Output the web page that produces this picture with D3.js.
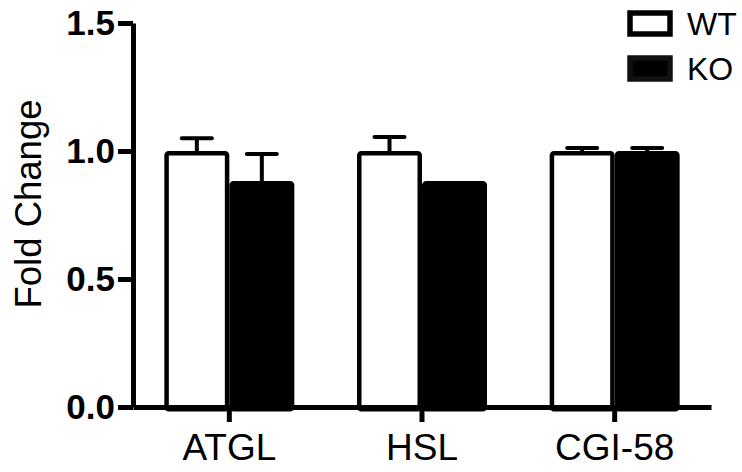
<!DOCTYPE html>
<html>
<head>
<meta charset="utf-8">
<script src="https://cdn.jsdelivr.net/npm/d3@7"></script>
<style>
  body { margin: 0; background: #fff; }
  svg { display: block; font-family: "Liberation Sans", Arial, sans-serif; }
</style>
</head>
<body>
<div id="container"></div>
<script>
const width = 742;
const height = 472;

// data
const genes = ["ATGL", "HSL", "CGI-58"];
const groups = ["WT", "KO"];
const wtMean = [1.0, 1.0, 1.0];
const wtErr = [0.05, 0.055, 0.012];
const koMean = [0.883, 0.883, 1.0];
const koErr = [0.105, 0, 0.012];
const yTicks = [0, 0.5, 1.0, 1.5];

const rows = [];
genes.forEach((g, i) => {
    rows.push({ gene: g, group: "WT", mean: wtMean[i], err: wtErr[i] });
    rows.push({ gene: g, group: "KO", mean: koMean[i], err: koErr[i] });
});

const svg = d3.select("div#container").append("svg")
    .attr("width", width)
    .attr("height", height);

// Scales
const x0 = d3.scaleBand().domain(genes).range([133, 711]).padding(0);
const x1 = d3.scaleBand().domain(groups).range([-65, 65]);
const yScale = d3.scaleLinear().domain([0, 1.5]).range([407, 23]);

const sw = 4.5;

// error bars (drawn first, bar covers the lower end)
const eb = svg.append("g").selectAll("g")
    .data(rows.filter(d => d.err > 0))
    .enter().append("g")
    .attr("transform", d => "translate(" + (x0(d.gene) + x0.bandwidth() / 2 + x1(d.group) + x1.bandwidth() / 2) + ",0)");

eb.append("line")
    .attr("y1", d => yScale(d.mean))
    .attr("y2", d => yScale(d.mean + d.err))
    .attr("stroke", "#000").attr("stroke-width", 4);

eb.append("line")
    .attr("x1", -15).attr("x2", 15)
    .attr("y1", d => yScale(d.mean + d.err))
    .attr("y2", d => yScale(d.mean + d.err))
    .attr("stroke", "#000").attr("stroke-width", 4)
    .attr("stroke-linecap", "round");

// bars
svg.append("g").selectAll("rect")
    .data(rows)
    .enter().append("rect")
    .attr("x", d => x0(d.gene) + x0.bandwidth() / 2 + x1(d.group) + sw / 2)
    .attr("width", x1.bandwidth() - sw)
    .attr("y", d => yScale(d.mean) + sw / 2)
    .attr("height", d => yScale(0) - yScale(d.mean))
    .attr("rx", 2)
    .attr("fill", d => d.group === "WT" ? "#fff" : "#000")
    .attr("stroke", "#000")
    .attr("stroke-width", sw);

// axes
const yaxis = d3.axisLeft(yScale)
    .tickValues(yTicks)
    .tickFormat(d3.format(".1f"))
    .tickSize(15)
    .tickSizeOuter(0)
    .tickPadding(3);

const xaxis = d3.axisBottom(x0)
    .tickSize(15)
    .tickSizeOuter(0)
    .tickPadding(12);

const gy = svg.append("g")
    .attr("transform", "translate(133,0)")
    .call(yaxis);
gy.select(".domain").attr("stroke-width", 5);
gy.selectAll(".tick line").attr("stroke-width", 5);
gy.selectAll(".tick text")
    .attr("font-size", 35)
    .attr("font-weight", "bold")
    .attr("font-family", "Liberation Sans, Arial, sans-serif")
    .attr("fill", "#000");

const gx = svg.append("g")
    .attr("transform", "translate(0,407)")
    .call(xaxis);
gx.select(".domain").attr("stroke-width", 5);
gx.selectAll(".tick line").attr("stroke-width", 5);
gx.selectAll(".tick text")
    .attr("font-size", 37)
    .attr("font-family", "Liberation Sans, Arial, sans-serif")
    .attr("fill", "#000");

// y label
svg.append("text")
    .attr("transform", "translate(41,204) rotate(-90)")
    .attr("text-anchor", "middle")
    .attr("font-size", 36.5)
    .text("Fold Change");

// legend
const legend = svg.append("g").selectAll("g")
    .data(groups)
    .enter().append("g")
    .attr("transform", (d, i) => "translate(630," + (13 + i * 45) + ")");

legend.append("rect")
    .attr("width", 40).attr("height", 21)
    .attr("fill", d => d === "WT" ? "#fff" : "#000")
    .attr("stroke", d => d === "WT" ? "#000" : "#111")
    .attr("stroke-width", 5.5);

legend.append("text")
    .attr("x", 57)
    .attr("y", 22)
    .attr("font-size", 32)
    .text(d => d);
</script>
</body>
</html>
